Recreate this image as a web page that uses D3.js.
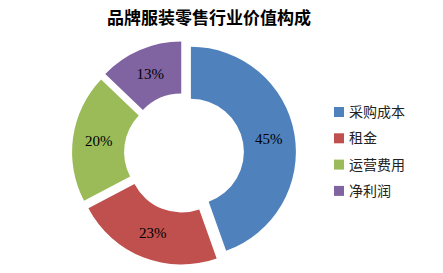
<!DOCTYPE html>
<html>
<head>
<meta charset="utf-8">
<script src="https://cdn.jsdelivr.net/npm/d3@7"></script>
<style>
  body { margin: 0; background: #fff; }
  svg { display: block; }
</style>
</head>
<body>
<div id="chart"></div>
<script>
// data
var categories = ["采购成本", "租金", "运营费用", "净利润"];
var values = [45, 23, 20, 13];
var labels = ["45%", "23%", "20%", "13%"];
var colors = ["#4F81BD", "#C0504D", "#9BBB59", "#8064A2"];

var width = 443, height = 273;
var svg = d3.select("#chart").append("svg")
  .attr("width", width)
  .attr("height", height);

// title
svg.append("text")
  .attr("x", 209)
  .attr("y", 24)
  .attr("text-anchor", "middle")
  .style("font-family", "'Noto Sans CJK SC', sans-serif")
  .style("font-weight", "bold")
  .style("font-size", "17px")
  .style("fill", "#000")
  .text("品牌服装零售行业价值构成");

var cx = 184, cy = 153, outerR = 105, innerR = 53, explode = 7;

var pie = d3.pie().sort(null).value(function(d) { return d; });
var arc = d3.arc().innerRadius(innerR).outerRadius(outerR);
var arcs = pie(values);

var g = svg.append("g").attr("transform", "translate(" + cx + "," + cy + ")");

var slice = g.selectAll(".slice")
  .data(arcs)
  .enter()
  .append("g")
  .attr("class", "slice")
  .attr("transform", function(d) {
    var a = (d.startAngle + d.endAngle) / 2;
    return "translate(" + (explode * Math.sin(a)) + "," + (-explode * Math.cos(a)) + ")";
  });

slice.append("path")
  .attr("d", arc)
  .attr("fill", function(d, i) { return colors[i]; });

slice.append("text")
  .attr("transform", function(d) { return "translate(" + arc.centroid(d) + ")"; })
  .attr("text-anchor", "middle")
  .attr("dy", "0.35em")
  .style("font-family", "'Liberation Serif', serif")
  .style("font-size", "15px")
  .style("fill", "#000")
  .text(function(d, i) { return labels[i]; });

// legend
var legend = svg.append("g").attr("transform", "translate(334,112)");
var rowH = 26.3;
var item = legend.selectAll(".item")
  .data(categories)
  .enter()
  .append("g")
  .attr("class", "item")
  .attr("transform", function(d, i) { return "translate(0," + (i * rowH) + ")"; });

item.append("rect")
  .attr("x", 0)
  .attr("y", -5)
  .attr("width", 10)
  .attr("height", 10)
  .attr("fill", function(d, i) { return colors[i]; });

item.append("text")
  .attr("x", 15)
  .attr("y", 0)
  .attr("dy", "0.35em")
  .style("font-family", "'Noto Sans CJK SC', sans-serif")
  .style("font-size", "14px")
  .style("fill", "#222")
  .text(function(d) { return d; });
</script>
</body>
</html>
